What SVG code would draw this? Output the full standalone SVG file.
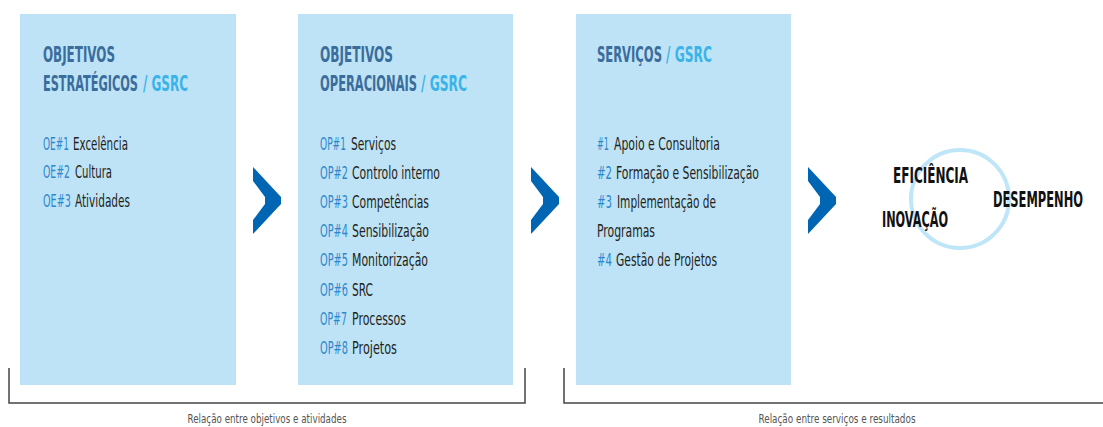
<svg xmlns="http://www.w3.org/2000/svg" width="1103" height="427" viewBox="0 0 1103 427">
<style>
.box{fill:#bee3f6}
.hd{font-family:"DejaVu Sans Condensed","Liberation Sans",sans-serif;font-weight:bold;font-size:22px;fill:#3b6d9c}
.gs{fill:#3ab4e8}
.it{font-family:"DejaVu Sans Condensed","Liberation Sans",sans-serif;font-size:17.5px;fill:#231f20}
.px{fill:#2d87cc}
.chev{fill:#0066b3}
.res{font-family:"DejaVu Sans Condensed","Liberation Sans",sans-serif;font-weight:bold;font-size:21px;fill:#111}
.br{fill:none;stroke:#444;stroke-width:1.5}
.ft{font-family:"DejaVu Sans Condensed","Liberation Sans",sans-serif;font-size:13px;fill:#555;text-anchor:middle}
</style>
<defs>
<path id="chevron" d="M0,0 L28,30 L28,37 L0,67 L0,53 L12,37 L12,30 L0,14 Z"/>
</defs>
<g id="node-objetivos-estrategicos">
<rect class="box" x="20" y="14" width="216" height="371"/>
<text class="hd" transform="translate(43,62) scale(0.6,1)" textLength="120" lengthAdjust="spacingAndGlyphs">OBJETIVOS</text>
<text class="hd" transform="translate(43,91) scale(0.6,1)" textLength="158.3" lengthAdjust="spacingAndGlyphs">ESTRATÉGICOS</text>
<text class="hd gs" transform="translate(143,91) scale(0.6,1)" textLength="75" lengthAdjust="spacingAndGlyphs">/ GSRC</text>
<text class="it px" transform="translate(43,150) scale(0.64,1)" textLength="40.6" lengthAdjust="spacingAndGlyphs">OE#1</text>
<text class="it" transform="translate(73,150) scale(0.64,1)" textLength="85.9" lengthAdjust="spacingAndGlyphs">Excelência</text>
<text class="it px" transform="translate(43,178) scale(0.64,1)" textLength="42.2" lengthAdjust="spacingAndGlyphs">OE#2</text>
<text class="it" transform="translate(75,178) scale(0.64,1)" textLength="57.8" lengthAdjust="spacingAndGlyphs">Cultura</text>
<text class="it px" transform="translate(43,207) scale(0.64,1)" textLength="43.75" lengthAdjust="spacingAndGlyphs">OE#3</text>
<text class="it" transform="translate(75,207) scale(0.64,1)" textLength="85.9" lengthAdjust="spacingAndGlyphs">Atividades</text>
</g>
<g id="node-objetivos-operacionais">
<rect class="box" x="298" y="14" width="215" height="371"/>
<text class="hd" transform="translate(320,62) scale(0.6,1)" textLength="121.7" lengthAdjust="spacingAndGlyphs">OBJETIVOS</text>
<text class="hd" transform="translate(320,91) scale(0.6,1)" textLength="161.7" lengthAdjust="spacingAndGlyphs">OPERACIONAIS</text>
<text class="hd gs" transform="translate(421,91) scale(0.6,1)" textLength="76.7" lengthAdjust="spacingAndGlyphs">/ GSRC</text>
<text class="it px" transform="translate(320,150) scale(0.64,1)" textLength="40.6" lengthAdjust="spacingAndGlyphs">OP#1</text>
<text class="it" transform="translate(351,150) scale(0.64,1)" textLength="70.3" lengthAdjust="spacingAndGlyphs">Serviços</text>
<text class="it px" transform="translate(320,179) scale(0.64,1)" textLength="43.75" lengthAdjust="spacingAndGlyphs">OP#2</text>
<text class="it" transform="translate(352,179) scale(0.64,1)" textLength="137.5" lengthAdjust="spacingAndGlyphs">Controlo interno</text>
<text class="it px" transform="translate(320,208) scale(0.64,1)" textLength="43.75" lengthAdjust="spacingAndGlyphs">OP#3</text>
<text class="it" transform="translate(352,208) scale(0.64,1)" textLength="120.3" lengthAdjust="spacingAndGlyphs">Competências</text>
<text class="it px" transform="translate(320,237) scale(0.64,1)" textLength="43.75" lengthAdjust="spacingAndGlyphs">OP#4</text>
<text class="it" transform="translate(352,237) scale(0.64,1)" textLength="120.3" lengthAdjust="spacingAndGlyphs">Sensibilização</text>
<text class="it px" transform="translate(320,266) scale(0.64,1)" textLength="43.75" lengthAdjust="spacingAndGlyphs">OP#5</text>
<text class="it" transform="translate(352,266) scale(0.64,1)" textLength="118.75" lengthAdjust="spacingAndGlyphs">Monitorização</text>
<text class="it px" transform="translate(320,296) scale(0.64,1)" textLength="43.75" lengthAdjust="spacingAndGlyphs">OP#6</text>
<text class="it" transform="translate(352,296) scale(0.64,1)" textLength="32.8" lengthAdjust="spacingAndGlyphs">SRC</text>
<text class="it px" transform="translate(320,325) scale(0.64,1)" textLength="42.2" lengthAdjust="spacingAndGlyphs">OP#7</text>
<text class="it" transform="translate(352,325) scale(0.64,1)" textLength="84.4" lengthAdjust="spacingAndGlyphs">Processos</text>
<text class="it px" transform="translate(320,354) scale(0.64,1)" textLength="43.75" lengthAdjust="spacingAndGlyphs">OP#8</text>
<text class="it" transform="translate(352,354) scale(0.64,1)" textLength="70.3" lengthAdjust="spacingAndGlyphs">Projetos</text>
</g>
<g id="node-servicos">
<rect class="box" x="576" y="14" width="215" height="371"/>
<text class="hd" transform="translate(597,62) scale(0.6,1)" textLength="108.3" lengthAdjust="spacingAndGlyphs">SERVIÇOS</text>
<text class="hd gs" transform="translate(666,62) scale(0.6,1)" textLength="76.7" lengthAdjust="spacingAndGlyphs">/ GSRC</text>
<text class="it px" transform="translate(597,150) scale(0.64,1)" textLength="18.75" lengthAdjust="spacingAndGlyphs">#1</text>
<text class="it" transform="translate(614,150) scale(0.64,1)" textLength="165.6" lengthAdjust="spacingAndGlyphs">Apoio e Consultoria</text>
<text class="it px" transform="translate(597,179) scale(0.64,1)" textLength="23.4" lengthAdjust="spacingAndGlyphs">#2</text>
<text class="it" transform="translate(616,179) scale(0.64,1)" textLength="223.4" lengthAdjust="spacingAndGlyphs">Formação e Sensibilização</text>
<text class="it px" transform="translate(597,208) scale(0.64,1)" textLength="23.4" lengthAdjust="spacingAndGlyphs">#3</text>
<text class="it" transform="translate(617,208) scale(0.64,1)" textLength="154.7" lengthAdjust="spacingAndGlyphs">Implementação de</text>
<text class="it" transform="translate(597,237) scale(0.64,1)" textLength="90.6" lengthAdjust="spacingAndGlyphs">Programas</text>
<text class="it px" transform="translate(597,266) scale(0.64,1)" textLength="23.4" lengthAdjust="spacingAndGlyphs">#4</text>
<text class="it" transform="translate(616,266) scale(0.64,1)" textLength="157.8" lengthAdjust="spacingAndGlyphs">Gestão de Projetos</text>
</g>
<g id="node-resultados">
<circle cx="960" cy="199" r="49" fill="none" stroke="#bee5f8" stroke-width="4"/>
<text class="res" transform="translate(893,183) scale(0.61,1)" textLength="123" lengthAdjust="spacingAndGlyphs">EFICIÊNCIA</text>
<text class="res" transform="translate(993,207) scale(0.61,1)" textLength="147.5" lengthAdjust="spacingAndGlyphs">DESEMPENHO</text>
<text class="res" transform="translate(882,227) scale(0.61,1)" textLength="108.2" lengthAdjust="spacingAndGlyphs">INOVAÇÃO</text>
</g>
<g id="connectors">
<use href="#chevron" class="chev" x="253" y="167"/>
<use href="#chevron" class="chev" x="531" y="167"/>
<use href="#chevron" class="chev" x="808" y="167"/>
<path class="br" d="M9,368 V403 H525 V368"/>
<path class="br" d="M564,368 V403 H1103"/>
<text class="ft" transform="translate(267,423) scale(0.68,1)" textLength="233.8" lengthAdjust="spacingAndGlyphs">Relação entre objetivos e atividades</text>
<text class="ft" transform="translate(837,423) scale(0.68,1)" textLength="230.9" lengthAdjust="spacingAndGlyphs">Relação entre serviços e resultados</text>
</g>
</svg>
